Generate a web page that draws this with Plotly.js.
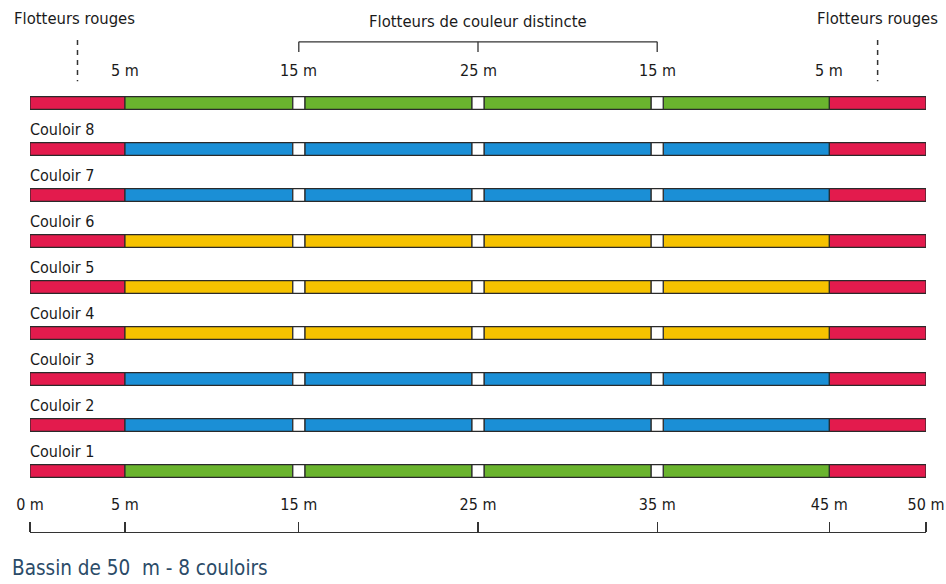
<!DOCTYPE html>
<html>
<head>
<meta charset="utf-8">
<script src="https://cdn.plot.ly/plotly-3.0.1.min.js"></script>
<style>html,body{margin:0;padding:0;background:#fff;}#chart{width:946px;height:584px;}</style>
</head>
<body>
<div id="chart"></div>
<script>
// ---- data ----
const poolLength = 50;
const redEnd = 5.3;          // end of the red zone at the start
const redStart = 44.6;       // start of the red zone at the end
const markerFloats = [15, 25, 35];   // white marker floats
const markerWidth = 0.67;
const ropeColors = ['green', 'blue', 'blue', 'yellow', 'yellow', 'yellow', 'blue', 'blue', 'green']; // bottom to top
const laneNames = ['Couloir 1', 'Couloir 2', 'Couloir 3', 'Couloir 4', 'Couloir 5', 'Couloir 6', 'Couloir 7', 'Couloir 8'];
const topTickVals = [redEnd, 15, 25, 35, redStart];
const topTickText = ['5 m', '15 m', '25 m', '15 m', '5 m'];
const bottomTickVals = [0, redEnd, 15, 25, 35, redStart, 50];
const bottomTickText = ['0 m', '5 m', '15 m', '25 m', '35 m', '45 m', '50 m'];
const titleText = 'Bassin de 50  m - 8 couloirs';

// ---- styles ----
const palette = {red: '#e31b4d', green: '#6ab42e', blue: '#1b8fd6', yellow: '#f6c200', white: '#ffffff'};
const FONT = '"Liberation Sans Narrow", "DejaVu Sans Condensed", "Roboto Condensed", sans-serif';
const ink = '#1a1a1a';

// ---- build segments ----
const segs = {};
function addSeg(color, rope, a, b) {
  if (!segs[color]) segs[color] = {y: [], x: [], base: []};
  segs[color].y.push(rope);
  segs[color].base.push(a);
  segs[color].x.push(b - a);
}
ropeColors.forEach((c, r) => {
  addSeg('red', r, 0, redEnd);
  let cur = redEnd;
  markerFloats.forEach(m => {
    addSeg(c, r, cur, m - markerWidth / 2);
    addSeg('white', r, m - markerWidth / 2, m + markerWidth / 2);
    cur = m + markerWidth / 2;
  });
  addSeg(c, r, cur, redStart);
  addSeg('red', r, redStart, poolLength);
});

const order = ['red', 'green', 'blue', 'yellow', 'white'];
const traces = order.filter(k => segs[k]).map(k => ({
  type: 'bar', orientation: 'h',
  y: segs[k].y, x: segs[k].x, base: segs[k].base,
  width: 0.28,
  marker: {color: palette[k], line: {color: '#2a2a2a', width: 1.2}},
  hoverinfo: 'skip', showlegend: false
}));

// ---- annotations ----
const annotations = [];
laneNames.forEach((n, i) => {
  annotations.push({x: 0, y: i + 0.43, xref: 'x', yref: 'y', text: n, showarrow: false,
    xanchor: 'left', yanchor: 'middle', xshift: -2, font: {family: FONT, size: 16, color: ink}});
});
topTickVals.forEach((v, i) => {
  annotations.push({x: v, y: 8.7, xref: 'x', yref: 'y', text: topTickText[i], showarrow: false,
    xanchor: 'center', yanchor: 'middle', font: {family: FONT, size: 16, color: ink}});
});
annotations.push({x: 25, y: 9.78, xref: 'x', yref: 'y', text: 'Flotteurs de couleur distincte', showarrow: false,
  xanchor: 'center', yanchor: 'middle', font: {family: FONT, size: 16.5, color: ink}});
annotations.push({x: 0, y: 9.84, xref: 'paper', xanchor: 'left', yref: 'y', text: 'Flotteurs rouges', showarrow: false,
  xshift: -18, yanchor: 'middle', font: {family: FONT, size: 16.5, color: ink}});
annotations.push({x: 1, y: 9.84, xref: 'paper', xanchor: 'right', yref: 'y', text: 'Flotteurs rouges', showarrow: false,
  xshift: 14, yanchor: 'middle', font: {family: FONT, size: 16.5, color: ink}});
annotations.push({x: 0, y: 0.027, xref: 'paper', yref: 'paper', text: titleText, showarrow: false,
  xanchor: 'left', yanchor: 'middle', xshift: -20, font: {family: FONT, size: 20.5, color: '#2b4b68'}});

// ---- shapes (bracket and dashed guides) ----
const bracketTop = 9.33, bracketTick = 9.11;
const shapes = [
  {type: 'line', xref: 'x', yref: 'y', x0: markerFloats[0], x1: markerFloats[2], y0: bracketTop, y1: bracketTop, line: {color: '#333', width: 1.3}},
];
markerFloats.forEach(m => shapes.push({type: 'line', xref: 'x', yref: 'y', x0: m, x1: m, y0: bracketTop, y1: bracketTick, line: {color: '#333', width: 1.3}}));
[redEnd / 2, (redStart + poolLength) / 2].forEach(m => shapes.push({type: 'line', xref: 'x', yref: 'y', x0: m, x1: m, y0: 9.37, y1: 8.47, line: {color: '#333', width: 1.5, dash: '5px,5px'}}));

const layout = {
  width: 946, height: 584,
  margin: {l: 30, r: 20, t: 0, b: 0},
  paper_bgcolor: '#fff', plot_bgcolor: '#fff',
  barmode: 'overlay',
  xaxis: {range: [0, poolLength], side: 'top', anchor: 'free', position: 0.089,
    showgrid: false, zeroline: false, showline: true, linecolor: '#333', linewidth: 1.3,
    ticks: 'outside', ticklen: 10, tickwidth: 1.3, tickcolor: '#333',
    tickvals: bottomTickVals, ticktext: bottomTickText, ticklabelstandoff: 6,
    tickfont: {family: FONT, size: 16, color: ink}, fixedrange: true},
  yaxis: {range: [-2.4565, 10.239], visible: false, fixedrange: true},
  annotations: annotations,
  shapes: shapes,
  font: {family: FONT}
};

Plotly.newPlot('chart', traces, layout, {displayModeBar: false, staticPlot: true});
</script>
</body>
</html>
